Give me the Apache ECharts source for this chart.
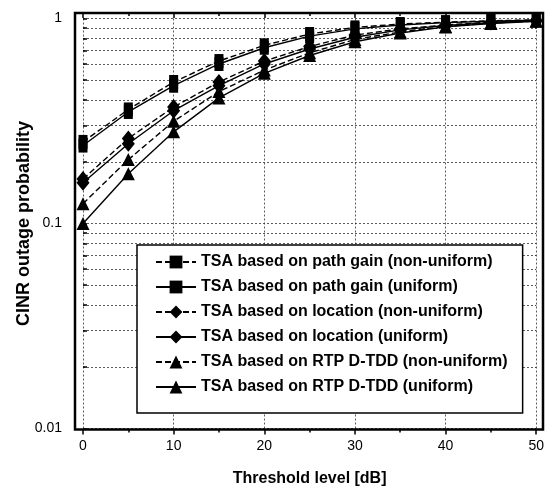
<!DOCTYPE html>
<html>
<head>
<meta charset="utf-8">
<script src="https://cdn.jsdelivr.net/npm/echarts@6/dist/echarts.min.js"></script>
<style>
  html, body { margin: 0; padding: 0; background: #fff; }
  #chart { width: 547px; height: 494px; }
</style>
</head>
<body>
<div id="chart"></div>
<script>
// threshold levels [dB]
var threshold = [0, 5, 10, 15, 20, 25, 30, 35, 40, 45, 50];

// CINR outage probability
var pathGainNonUni = [0.25, 0.36, 0.49, 0.62, 0.74, 0.84, 0.905, 0.94, 0.96, 0.975, 0.985];
var pathGainUni    = [0.24, 0.35, 0.47, 0.60, 0.72, 0.82, 0.89, 0.93, 0.955, 0.97, 0.982];
var locNonUni      = [0.165, 0.26, 0.37, 0.49, 0.62, 0.73, 0.83, 0.89, 0.93, 0.96, 0.978];
var locUni         = [0.158, 0.245, 0.355, 0.47, 0.60, 0.71, 0.81, 0.88, 0.925, 0.955, 0.975];
var rtpNonUni      = [0.125, 0.205, 0.315, 0.44, 0.56, 0.68, 0.79, 0.86, 0.915, 0.95, 0.972];
var rtpUni         = [0.10, 0.175, 0.28, 0.41, 0.54, 0.66, 0.77, 0.85, 0.91, 0.945, 0.97];

var seriesNames = [
  'TSA based on path gain (non-uniform)',
  'TSA based on path gain (uniform)',
  'TSA based on location (non-uniform)',
  'TSA based on location (uniform)',
  'TSA based on RTP D-TDD (non-uniform)',
  'TSA based on RTP D-TDD (uniform)'
];

// y ticks: decades and the 2..9 steps in between
var yMajor = [0.01, 0.1, 1];
var yMinor = [0.01, 0.02, 0.03, 0.04, 0.05, 0.06, 0.07, 0.08, 0.09,
              0.1, 0.2, 0.3, 0.4, 0.5, 0.6, 0.7, 0.8, 0.9, 1];

function pairs(ys) {
  var out = [];
  for (var i = 0; i < threshold.length; i++) out.push([threshold[i], ys[i]]);
  return out;
}

var dashed = [6, 3];
function mkSeries(name, ys, symbol, size, dash) {
  return {
    name: name,
    type: 'line',
    data: pairs(ys),
    symbol: symbol,
    symbolSize: size,
    itemStyle: { color: '#000' },
    lineStyle: { color: '#000', width: 1.4, type: dash ? dashed : 'solid' },
    z: 3
  };
}

var myChart = echarts.init(document.getElementById('chart'));
var grid = { left: 83, right: 10, top: 18.5, bottom: 65.5 };
var gridLine = { show: true, lineStyle: { color: '#333', width: 0.8, type: [2, 2] } };

option = {
  animation: false,
  backgroundColor: '#fff',
  textStyle: { fontFamily: 'Liberation Sans, Arial, sans-serif' },
  grid: grid,
  xAxis: [{
    type: 'value', min: 0, max: 50, interval: 10, position: 'bottom', offset: 1,
    axisLine: { show: false },
    axisTick: { show: true, inside: false, length: 5, lineStyle: { color: '#000', width: 1.5 } },
    minorTick: { show: true, splitNumber: 2, length: 3, lineStyle: { color: '#000', width: 1.5 } },
    axisLabel: { color: '#000', fontSize: 14, margin: 10 },
    splitLine: gridLine,
    name: 'Threshold level [dB]', nameLocation: 'middle', nameGap: 41, nameMoveOverlap: false,
    nameTextStyle: { color: '#000', fontSize: 16, fontWeight: 'bold' }
  }, {
    type: 'value', min: 0, max: 50, interval: 10, position: 'top', offset: 5.5,
    axisLine: { show: false },
    axisTick: { show: true, inside: true, length: 5, lineStyle: { color: '#000', width: 1.5 } },
    minorTick: { show: true, splitNumber: 2, length: 3, lineStyle: { color: '#000', width: 1.5 } },
    axisLabel: { show: false },
    splitLine: { show: false }
  }],
  yAxis: [{
    type: 'log', logBase: 10, min: 0.01, max: 1, position: 'left', offset: 8,
    axisLine: { show: false },
    axisTick: { show: true, inside: true, length: 4, customValues: yMinor,
                lineStyle: { color: '#000', width: 1.5 } },
    axisLabel: { color: '#000', fontSize: 14, margin: 13, customValues: yMajor,
                 formatter: function (v) { return String(v); } },
    splitLine: gridLine,
    name: 'CINR outage probability', nameLocation: 'middle', nameGap: 42, nameMoveOverlap: false,
    nameTextStyle: { color: '#000', fontSize: 18, fontWeight: 'bold' }
  }, {
    type: 'log', logBase: 10, min: 0.01, max: 1, position: 'right', offset: 6,
    axisLine: { show: false },
    axisTick: { show: true, inside: false, length: 4, customValues: yMinor,
                lineStyle: { color: '#000', width: 1.5 } },
    axisLabel: { show: false },
    splitLine: { show: false }
  }],
  legend: {
    orient: 'vertical',
    left: 137, top: 245,
    padding: [9, 15, 18, 18],
    itemGap: 9,
    itemWidth: 40,
    itemHeight: 16,
    backgroundColor: '#fff',
    borderColor: '#000',
    borderWidth: 1.5,
    textStyle: { color: '#000', fontSize: 16, fontWeight: 'bold', lineHeight: 16 },
    data: seriesNames
  },
  graphic: [{
    type: 'rect', z: 10, silent: true,
    shape: { x: 75, y: 13, width: 468, height: 416.5 },
    style: { fill: null, stroke: '#000', lineWidth: 2.5 }
  }],
  series: [
    mkSeries(seriesNames[0], pathGainNonUni, 'rect', [9, 14], true),
    mkSeries(seriesNames[1], pathGainUni, 'rect', [9, 14], false),
    mkSeries(seriesNames[2], locNonUni, 'diamond', [13, 16], true),
    mkSeries(seriesNames[3], locUni, 'diamond', [13, 16], false),
    mkSeries(seriesNames[4], rtpNonUni, 'triangle', [13, 13], true),
    mkSeries(seriesNames[5], rtpUni, 'triangle', [13, 13], false)
  ]
};
myChart.setOption(option);
</script>
</body>
</html>
